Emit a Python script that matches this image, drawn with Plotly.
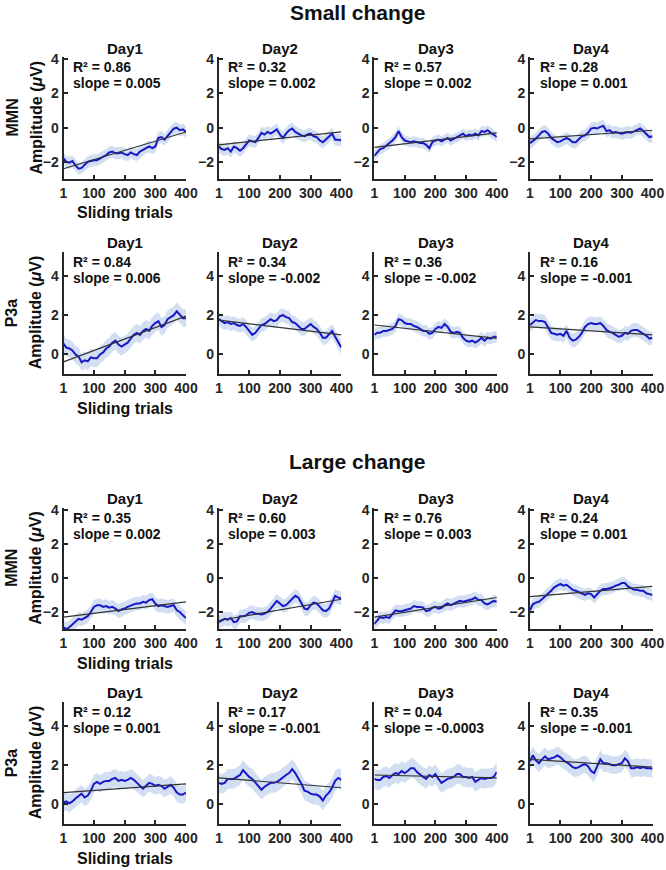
import plotly.graph_objects as go

# ---------------- data ----------------
trials = [1] + list(range(10, 401, 10))  # sample positions of the sliding-trial curves

days = ["Day1", "Day2", "Day3", "Day4"]
conditions = ["Small change", "Large change"]
measures = ["MMN", "P3a"]

x_ticks = [1, 100, 200, 300, 400]
mmn_ticks = [-2, 0, 2, 4]
p3a_ticks = [0, 2, 4]
mmn_range = [-3, 4.13]
p3a_range = [-1, 5.24]

# Small change, MMN
small_mmn_day1 = [-1.8, -2.0, -2.05, -1.95, -2.2, -2.4, -2.35, -2.2, -2.0, -1.95, -1.9, -1.9, -1.8, -1.7,
                  -1.6, -1.45, -1.4, -1.5, -1.5, -1.45, -1.55, -1.6, -1.45, -1.55, -1.6, -1.4, -1.3, -1.15,
                  -1.1, -1.2, -1.1, -0.6, -0.55, -0.7, -0.5, -0.3, -0.05, 0.0, -0.15, -0.1, -0.25]
small_mmn_day2 = [-1.1, -1.25, -1.3, -1.2, -1.4, -1.1, -1.2, -1.35, -1.2, -0.95, -0.75, -0.8, -0.85, -0.6,
                  -0.3, -0.4, -0.25, -0.35, -0.2, -0.1, -0.4, -0.6, -0.35, -0.15, -0.05, -0.25, -0.35, -0.45,
                  -0.5, -0.4, -0.35, -0.5, -0.55, -0.75, -0.85, -0.7, -0.5, -0.35, -0.7, -0.7, -0.75]
small_mmn_day3 = [-1.65, -1.45, -1.25, -1.2, -1.05, -0.95, -0.75, -0.55, -0.2, -0.55, -0.75, -0.8, -0.85,
                  -0.8, -0.85, -0.9, -0.9, -1.0, -1.2, -0.85, -0.75, -0.7, -0.8, -0.7, -0.6, -0.75, -0.65,
                  -0.55, -0.5, -0.35, -0.5, -0.4, -0.45, -0.35, -0.45, -0.2, -0.25, -0.15, -0.3, -0.4, -0.55]
small_mmn_day4 = [-0.9, -0.8, -0.65, -0.45, -0.25, -0.2, -0.35, -0.6, -0.7, -0.85, -0.8, -0.7, -0.6, -0.7,
                  -0.85, -0.85, -0.65, -0.5, -0.45, -0.3, -0.05, 0.0, -0.05, 0.05, 0.1, -0.2, -0.15, -0.3,
                  -0.25, -0.3, -0.35, -0.3, -0.25, -0.3, -0.2, -0.1, -0.05, -0.2, -0.4, -0.55, -0.5]
# Small change, P3a
small_p3a_day1 = [0.55, 0.35, 0.3, 0.2, 0.0, -0.1, -0.4, -0.3, -0.35, -0.15, -0.2, -0.2, 0.0, 0.1, 0.3,
                  0.4, 0.6, 0.7, 0.5, 0.4, 0.5, 0.6, 0.8, 1.0, 1.1, 1.0, 1.2, 1.3, 1.2, 1.45, 1.6, 1.7, 1.4,
                  1.5, 1.8, 1.9, 2.0, 2.2, 2.0, 1.85, 1.85]
small_p3a_day2 = [1.8, 1.7, 1.6, 1.65, 1.55, 1.6, 1.5, 1.45, 1.55, 1.4, 1.2, 1.0, 1.1, 1.3, 1.5, 1.55, 1.7,
                  1.8, 1.7, 1.75, 1.95, 2.0, 1.9, 1.85, 1.65, 1.6, 1.45, 1.3, 1.3, 1.45, 1.55, 1.4, 1.3, 1.1,
                  0.85, 0.85, 1.0, 1.2, 0.9, 0.6, 0.35]
small_p3a_day3 = [1.0, 1.1, 1.1, 1.2, 1.2, 1.25, 1.3, 1.45, 1.8, 1.75, 1.6, 1.55, 1.55, 1.45, 1.4, 1.3, 1.2,
                  1.2, 1.05, 1.1, 1.3, 1.4, 1.35, 1.55, 1.4, 1.15, 1.1, 1.15, 1.1, 0.85, 0.7, 0.65, 0.7, 0.6,
                  0.7, 0.85, 0.7, 0.85, 0.8, 0.9, 0.9]
small_p3a_day4 = [1.5, 1.6, 1.75, 1.7, 1.7, 1.65, 1.35, 1.1, 1.05, 1.0, 1.05, 0.95, 1.2, 0.85, 0.7, 0.75,
                  0.9, 1.1, 1.4, 1.55, 1.6, 1.55, 1.55, 1.6, 1.45, 1.25, 1.15, 1.1, 1.0, 0.9, 0.95, 1.1, 1.05,
                  1.2, 1.25, 1.25, 1.15, 1.05, 0.95, 0.8, 0.85]
# Large change, MMN
large_mmn_day1 = [-2.9, -3.0, -2.9, -2.75, -2.6, -2.4, -2.45, -2.35, -2.25, -2.0, -1.7, -1.6, -1.6, -1.7,
                  -1.65, -1.75, -1.7, -1.8, -1.95, -1.85, -1.8, -1.7, -1.6, -1.55, -1.5, -1.5, -1.4, -1.45,
                  -1.3, -1.25, -1.5, -1.65, -1.6, -1.65, -1.7, -1.65, -1.6, -1.9, -2.0, -2.2, -2.35]
large_mmn_day2 = [-2.6, -2.5, -2.4, -2.45, -2.35, -2.6, -2.55, -2.25, -2.25, -2.2, -2.05, -2.0, -2.1, -2.1,
                  -2.15, -2.1, -2.0, -1.8, -1.55, -1.35, -1.5, -1.65, -1.6, -1.4, -1.2, -1.05, -1.15, -1.5,
                  -1.8, -1.85, -1.6, -1.45, -1.5, -1.7, -1.9, -1.95, -1.8, -1.45, -1.05, -1.15, -1.2]
large_mmn_day3 = [-2.7, -2.5, -2.3, -2.35, -2.3, -2.35, -2.1, -1.9, -1.95, -1.95, -1.9, -1.85, -1.8, -1.65,
                  -1.7, -1.7, -1.75, -1.95, -1.9, -1.75, -1.7, -1.8, -1.75, -1.6, -1.5, -1.6, -1.5, -1.4,
                  -1.35, -1.4, -1.35, -1.3, -1.25, -1.15, -1.3, -1.3, -1.5, -1.55, -1.45, -1.35, -1.4]
large_mmn_day4 = [-1.9, -1.55, -1.45, -1.4, -1.25, -1.1, -0.9, -0.75, -0.55, -0.45, -0.35, -0.45, -0.4,
                  -0.55, -0.7, -0.75, -0.85, -0.95, -1.0, -0.9, -0.95, -1.15, -0.95, -0.75, -0.65, -0.65,
                  -0.6, -0.55, -0.45, -0.4, -0.3, -0.3, -0.5, -0.6, -0.7, -0.7, -0.75, -0.75, -0.9, -0.95, -1.0]
# Large change, P3a
large_p3a_day1 = [0.1, 0.15, 0.05, 0.15, 0.3, 0.45, 0.55, 0.35, 0.45, 0.7, 1.05, 1.15, 1.05, 1.15, 1.2, 1.2,
                  1.3, 1.35, 1.2, 1.25, 1.2, 1.25, 1.35, 1.25, 1.1, 0.95, 0.8, 0.95, 1.1, 1.05, 0.95, 1.0,
                  0.95, 0.8, 0.9, 1.0, 0.85, 0.6, 0.5, 0.5, 0.6]
large_p3a_day2 = [1.1, 1.05, 1.1, 1.3, 1.3, 1.3, 1.4, 1.5, 1.75, 1.55, 1.4, 1.3, 1.1, 0.9, 0.75, 0.9, 1.0,
                  1.1, 1.1, 1.15, 1.25, 1.4, 1.5, 1.6, 1.8, 1.6, 1.35, 1.05, 0.7, 0.65, 0.55, 0.5, 0.5, 0.4,
                  0.2, 0.45, 0.6, 0.85, 1.2, 1.35, 1.25]
large_p3a_day3 = [1.3, 1.25, 1.25, 1.4, 1.45, 1.35, 1.5, 1.6, 1.55, 1.7, 1.6, 1.7, 1.85, 1.85, 1.65, 1.5,
                  1.4, 1.3, 1.5, 1.4, 1.55, 1.3, 1.1, 1.2, 1.3, 1.35, 1.4, 1.55, 1.55, 1.4, 1.4, 1.35, 1.4,
                  1.15, 1.25, 1.35, 1.3, 1.35, 1.35, 1.4, 1.65]
large_p3a_day4 = [2.2, 2.5, 2.25, 2.1, 2.3, 2.45, 2.3, 2.35, 2.4, 2.5, 2.4, 2.25, 2.15, 2.05, 1.9, 1.85,
                  1.9, 2.0, 2.05, 1.95, 1.7, 1.6, 1.95, 2.3, 2.1, 2.1, 2.05, 2.0, 2.0, 2.05, 2.1, 2.35, 2.2,
                  1.85, 1.85, 1.9, 1.85, 1.9, 1.85, 1.85, 1.8]

# shaded error band half-width per panel
band_small_mmn = [0.35, 0.35, 0.3, 0.35]
band_small_p3a = [0.45, 0.35, 0.3, 0.35]
band_large_mmn = [0.4, 0.4, 0.35, 0.35]
band_large_p3a = [0.45, 0.5, 0.5, 0.45]

# linear fit values at trial 1 and trial 400
fit_small_mmn_start = [-2.4, -1.0, -1.15, -0.65]
fit_small_mmn_end = [-0.25, -0.25, -0.3, -0.15]
fit_small_p3a_start = [-0.38, 1.75, 1.5, 1.4]
fit_small_p3a_end = [1.95, 1.0, 0.82, 1.0]
fit_large_mmn_start = [-2.3, -2.5, -2.3, -1.1]
fit_large_mmn_end = [-1.4, -1.25, -1.15, -0.5]
fit_large_p3a_start = [0.6, 1.35, 1.5, 2.3]
fit_large_p3a_end = [1.05, 0.85, 1.35, 1.9]

r2_small_mmn = ["0.86", "0.32", "0.57", "0.28"]
slope_small_mmn = ["0.005", "0.002", "0.002", "0.001"]
r2_small_p3a = ["0.84", "0.34", "0.36", "0.16"]
slope_small_p3a = ["0.006", "-0.002", "-0.002", "-0.001"]
r2_large_mmn = ["0.35", "0.60", "0.76", "0.24"]
slope_large_mmn = ["0.002", "0.003", "0.003", "0.001"]
r2_large_p3a = ["0.12", "0.17", "0.04", "0.35"]
slope_large_p3a = ["0.001", "-0.001", "-0.0003", "-0.001"]

rows = [
    dict(measure="MMN", series=[small_mmn_day1, small_mmn_day2, small_mmn_day3, small_mmn_day4],
         band=band_small_mmn, fs=fit_small_mmn_start, fe=fit_small_mmn_end,
         r2=r2_small_mmn, slope=slope_small_mmn),
    dict(measure="P3a", series=[small_p3a_day1, small_p3a_day2, small_p3a_day3, small_p3a_day4],
         band=band_small_p3a, fs=fit_small_p3a_start, fe=fit_small_p3a_end,
         r2=r2_small_p3a, slope=slope_small_p3a),
    dict(measure="MMN", series=[large_mmn_day1, large_mmn_day2, large_mmn_day3, large_mmn_day4],
         band=band_large_mmn, fs=fit_large_mmn_start, fe=fit_large_mmn_end,
         r2=r2_large_mmn, slope=slope_large_mmn),
    dict(measure="P3a", series=[large_p3a_day1, large_p3a_day2, large_p3a_day3, large_p3a_day4],
         band=band_large_p3a, fs=fit_large_p3a_start, fe=fit_large_p3a_end,
         r2=r2_large_p3a, slope=slope_large_p3a),
]

# ---------------- layout geometry (pixels) ----------------
W, H = 666, 870
col_left = [63.5, 218.8, 374.3, 530.0]
col_w = 122.5
row_top = [57.0, 251.7, 507.7, 701.7]
row_bot = [179.0, 374.0, 629.0, 824.0]
title_y = [12, 462]

FONT = "Liberation Sans, Arial, Helvetica, sans-serif"
AX = "#262626"
TXT = "#111111"
LINE_BLUE = "#1818C8"
BAND = "#D2DEF1"


def px(x):
    return x / W


def py(y):
    return 1 - y / H


def bold(size):
    return dict(size=size, family=FONT, color=TXT, weight="bold")


fig = go.Figure()
layout = dict(
    template="none",
    width=W, height=H, margin=dict(l=0, r=0, t=0, b=0, pad=0, autoexpand=False), autosize=False,
    plot_bgcolor="white", paper_bgcolor="white", showlegend=False,
    font=dict(family=FONT, color=AX, size=14),
)
annotations = []

k = 0
for r, row in enumerate(rows):
    yr = mmn_range if row["measure"] == "MMN" else p3a_range
    yt = mmn_ticks if row["measure"] == "MMN" else p3a_ticks
    for c in range(4):
        k += 1
        xa = "x" if k == 1 else f"x{k}"
        ya = "y" if k == 1 else f"y{k}"
        vals = row["series"][c]
        bw = row["band"][c]
        upper = [v + bw for v in vals]
        lower = [v - bw for v in vals]
        fig.add_trace(go.Scatter(
            x=trials + trials[::-1], y=upper + lower[::-1], fill="toself",
            fillcolor=BAND, line=dict(width=0), mode="lines", hoverinfo="skip",
            xaxis=xa, yaxis=ya))
        fig.add_trace(go.Scatter(
            x=trials, y=vals, mode="lines", line=dict(color=LINE_BLUE, width=2),
            xaxis=xa, yaxis=ya))
        fig.add_trace(go.Scatter(
            x=[trials[0], trials[-1]], y=[row["fs"][c], row["fe"][c]], mode="lines",
            line=dict(color="#333333", width=1.2), xaxis=xa, yaxis=ya))

        axcommon = dict(showline=True, linewidth=2, linecolor=AX, ticks="inside", ticklen=4,
                        tickwidth=1.5, tickcolor=AX, showgrid=False, zeroline=False,
                        automargin=False,
                        tickfont=dict(family=FONT, size=14, color=AX, weight="bold"))
        layout["xaxis" if k == 1 else f"xaxis{k}"] = dict(
            axcommon, domain=[px(col_left[c]), px(col_left[c] + col_w)], range=[1, 400],
            tickvals=x_ticks, anchor=ya)
        layout["yaxis" if k == 1 else f"yaxis{k}"] = dict(
            axcommon, domain=[py(row_bot[r]), py(row_top[r])], range=yr,
            tickvals=yt, anchor=xa)

        annotations.append(dict(text=days[c], x=px(col_left[c] + col_w / 2),
                                y=py(row_top[r] - 9), xref="paper", yref="paper",
                                xanchor="center", yanchor="middle", showarrow=False,
                                font=bold(15)))
        annotations.append(dict(text=f"R² = {row['r2'][c]}",
                                x=px(col_left[c] + 7.5), y=py(row_top[r] + 10), xref="paper",
                                yref="paper", xanchor="left", yanchor="middle", showarrow=False,
                                font=bold(14)))
        annotations.append(dict(text=f"slope = {row['slope'][c]}",
                                x=px(col_left[c] + 7.5), y=py(row_top[r] + 26.5), xref="paper",
                                yref="paper", xanchor="left", yanchor="middle", showarrow=False,
                                font=bold(14)))

    yc = (row_top[r] + row_bot[r]) / 2
    annotations.append(dict(text="Amplitude (<i>μ</i>V)", x=px(35.5), y=py(yc),
                            xref="paper", yref="paper", xanchor="center", yanchor="middle",
                            textangle=-90, showarrow=False, font=bold(16)))
    annotations.append(dict(text=row["measure"], x=px(11.5), y=py(yc),
                            xref="paper", yref="paper", xanchor="center", yanchor="middle",
                            textangle=-90, showarrow=False, font=bold(16)))
    annotations.append(dict(text="Sliding trials", x=px(col_left[0] + col_w / 2),
                            y=py(row_bot[r] + 34), xref="paper", yref="paper",
                            xanchor="center", yanchor="middle", showarrow=False,
                            font=bold(16)))

for i, cond in enumerate(conditions):
    annotations.append(dict(text=cond, x=px(357.5), y=py(title_y[i]),
                            xref="paper", yref="paper", xanchor="center", yanchor="middle",
                            showarrow=False, font=bold(21)))

layout["annotations"] = annotations
fig.update_layout(**layout)
fig.write_html(
    "out.html",
    config={"responsive": False, "displayModeBar": False},
    post_script=("document.documentElement.style.margin='0';"
                 "document.documentElement.style.overflow='hidden';"
                 "document.body.style.margin='0';document.body.style.padding='0';"
                 "document.body.style.overflow='hidden';"),
)
